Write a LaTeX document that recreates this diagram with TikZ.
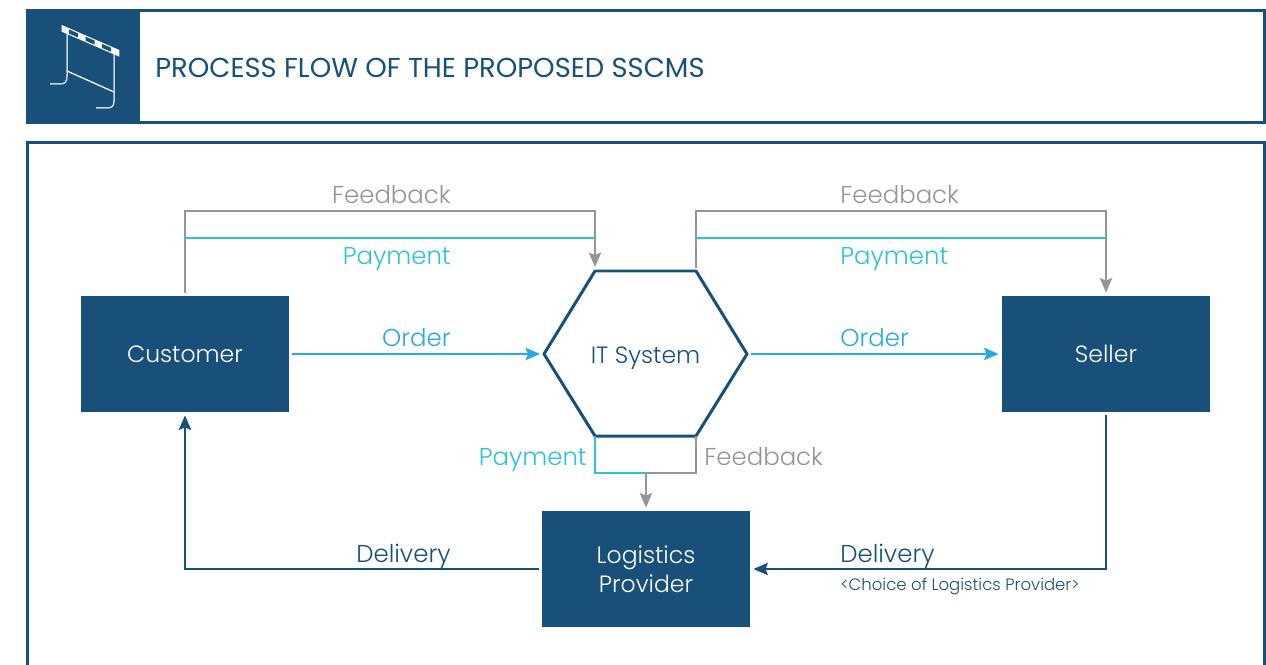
\documentclass[tikz,border=0pt]{standalone}
\usepackage{fontspec}
\setmainfont{Poppins}[UprightFont={* Light}]
\newfontfamily\titlefont{Poppins}
\usetikzlibrary{arrows.meta}
\definecolor{sscmsblue}{HTML}{18507A}
\definecolor{paygreen}{HTML}{2BC4D4}
\definecolor{orderblue}{HTML}{27A9E1}
\definecolor{feedgray}{HTML}{939598}
\tikzset{
  party/.style={fill=sscmsblue,text=white,minimum width=4.16cm,minimum height=2.32cm,outer sep=0.07cm,align=center,font=\fontsize{13.4}{16.5}\selectfont},
  lbl/.style={inner sep=0pt,font=\fontsize{13.9}{15}\selectfont},
  frame/.style={draw=sscmsblue,line width=0.06cm},
  feedline/.style={draw=feedgray,line width=0.022cm},
  payline/.style={draw=paygreen,line width=0.022cm},
  orderline/.style={draw=orderblue,line width=0.022cm},
  deliveryline/.style={draw=sscmsblue,line width=0.022cm},
  iconline/.style={draw=white!75!sscmsblue,line width=0.03cm,line join=round}
}
\begin{document}
\begin{tikzpicture}[line cap=butt,line join=miter,>={Stealth[length=0.29cm,width=0.25cm,inset=0.05cm]},x=0.02cm,y=-0.02cm]
    \useasboundingbox (0,0) rectangle (1266,665);
    % frames
    \draw [frame] (27,11) rectangle (1264,123);
    \draw [frame] (27,665)-- (27,143)-- (1264,143)-- (1264,665);
    \fill [sscmsblue] (26,10) rectangle (140,124);
    % hurdle icon
    \draw [iconline] (67,30)-- (67,76) .. controls (67,82) and (65,84) .. (60,84)-- (50,84);
    \draw [iconline] (114,54)-- (114,101) .. controls (114,106) and (112,108) .. (107,108)-- (96,108);
    \draw [line width=0.025cm,white] (67,71)-- (114,92);
    \fill [white] (61.7,25)-- (119.3,50)-- (119.3,56.7)-- (61.7,31.7)-- cycle;
    \foreach \s in {69,85.5,102}{
        \fill [sscmsblue] (\s,{25+(\s-61.7)*0.434+1.3})-- (\s+9,{25+(\s+9-61.7)*0.434+1.3})-- (\s+9,{25+(\s+9-61.7)*0.434+5.4})-- (\s,{25+(\s-61.7)*0.434+5.4})-- cycle;
    }
    \node [anchor=base west,inner sep=0pt,text=sscmsblue,font=\titlefont\fontsize{15.6}{17}\selectfont] (title) at (155,78) {PROCESS FLOW OF THE PROPOSED SSCMS};
    % boxes
    \node [party] (customer) at (185,354) {Customer};
    \node [party] (seller) at (1106,354) {Seller};
    \node [party] (logistics) at (646,569) {Logistics\\Provider};
    % hexagon
    \coordinate (hexw) at (544,354);
    \coordinate (hexnw) at (595,271);
    \coordinate (hexne) at (696,271);
    \coordinate (hexe) at (747,354);
    \coordinate (hexse) at (696,436);
    \coordinate (hexsw) at (595,436);
    \draw [frame,line join=round] (hexw)-- (hexnw)-- (hexne)-- (hexe)-- (hexse)-- (hexsw)-- cycle;
    \node [inner sep=0pt,anchor=base,text=sscmsblue,font=\fontsize{13.4}{15}\selectfont] (itsystem) at (645.5,363) {IT System};
    % bends and free ends
    \coordinate (itin) at (540,354);
    \coordinate (itout) at (751,354);
    \coordinate (ittip) at (595,267);
    \coordinate (ittail) at (696,268);
    \coordinate (bottomjoin) at (646,473);
    \coordinate (leftbend) at (185,211);
    \coordinate (rightbend) at (1106,211);
    \coordinate (leftpay) at (185,238);
    \coordinate (leftpayend) at (595,238);
    \coordinate (rightpay) at (696,238);
    \coordinate (rightpayend) at (1106,238);
    % feedback and payment
    \draw [feedline,->] (customer.north)-- (leftbend)-| (ittip);
    \draw [feedline,->] (ittail)|- (rightbend)-- (seller.north);
    \draw [payline] (leftpay)-- (leftpayend);
    \draw [payline] (rightpay)-- (rightpayend);
    \draw [payline] (hexsw)|- (bottomjoin);
    \draw [feedline] (hexse)|- (bottomjoin);
    \draw [feedline,->] (bottomjoin)-- (logistics.north);
    % order
    \draw [orderline,->] (customer.east)-- (itin);
    \draw [orderline,->] (itout)-- (seller.west);
    % delivery
    \draw [deliveryline,->] (logistics.west)-| (customer.south);
    \draw [deliveryline,->] (seller.south)|- (logistics.east);
    % labels
    \node [lbl,text=feedgray,anchor=base east] (feedleft) at (451,204) {Feedback};
    \node [lbl,text=feedgray,anchor=base west] (feedright) at (840,204) {Feedback};
    \node [lbl,text=paygreen,anchor=base east] (payleft) at (451,265) {Payment};
    \node [lbl,text=paygreen,anchor=base west] (payright) at (840,265) {Payment};
    \node [lbl,text=orderblue,anchor=base east] (orderleft) at (451,346) {Order};
    \node [lbl,text=orderblue,anchor=base west] (orderright) at (840,346) {Order};
    \node [lbl,text=paygreen,anchor=base east] (paybottom) at (587,465) {Payment};
    \node [lbl,text=feedgray,anchor=base west] (feedbottom) at (704,465) {Feedback};
    \node [lbl,text=sscmsblue,anchor=base east] (delivleft) at (451,562) {Delivery};
    \node [lbl,text=sscmsblue,anchor=base west] (delivright) at (840,562) {Delivery};
    \node [inner sep=0pt,text=sscmsblue,anchor=base west,font=\fontsize{9.4}{11}\selectfont] (choice) at (840,590) {<Choice of Logistics Provider>};
\end{tikzpicture}
\end{document}
